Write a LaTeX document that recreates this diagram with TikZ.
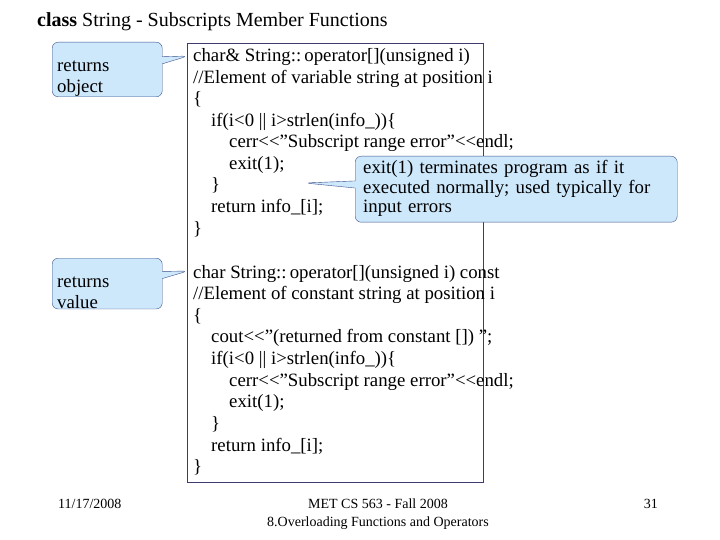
\documentclass[tikz,border=0pt]{standalone}
\usepackage{fontspec}
\setmainfont{Liberation Serif}
\usetikzlibrary{shapes.callouts}
\newcommand{\lsh}{\textless{}\textless{}}
\newcommand{\dq}{\symbol{34}}
\begin{document}
\begin{tikzpicture}[x=1pt,y=-1pt,
 code/.style={anchor=base west,inner sep=0,font=\fontsize{18.8}{20}\selectfont},
 note/.style={rectangle callout,rounded corners=6pt,draw={rgb,255:red,60;green,80;blue,140},fill={rgb,255:red,206;green,232;blue,251},align=left,anchor=north west,inner sep=0,font=\fontsize{18.8}{21.5}\selectfont}]
\useasboundingbox (0,0) rectangle (720,540);
\fill[white] (0,0) rectangle (720,540);
\node[anchor=base west,inner sep=0,font=\fontsize{20}{22}\selectfont] (title) at (37,27) {\textbf{class} String - Subscripts Member Functions};
\draw[draw={rgb,255:red,60;green,60;blue,110}] (187,43) rectangle (483,482);
\coordinate (p1) at (188,56);
\coordinate (p2) at (188,271);
\coordinate (p3) at (305,183);
\node[note,minimum width=110,minimum height=48,text width=100,callout absolute pointer=(p1)] (n1) at (52,42) {\hspace{10pt}\parbox[t]{95pt}{\vspace{-3pt}returns\\object}};
\node[note,minimum width=110,minimum height=48,text width=100,callout absolute pointer=(p2)] (n2) at (52,258) {\hspace{10pt}\parbox[t]{95pt}{\vspace{-3pt}returns\\value}};
\node[note,minimum width=322,minimum height=66,text width=322,callout absolute pointer=(p3)] (n3) at (355,156) {\hspace{8pt}\parbox[t]{312pt}{\vspace{-1pt}exit(1) terminates program as if it\\[-2pt]executed normally; used typically for\\[-2pt]input errors}};
\node[code] (a1) at (193,62) {char\& String::\,operator[](unsigned i)};
\node[code] (a2) at (193,84) {//Element of variable string at position i};
\node[code] (a3) at (193,105) {\{};
\node[code] (a4) at (211,127) {if(i\textless0 || i\textgreater strlen(info\_))\{};
\node[code] (a5) at (229,148) {cerr\lsh\dq Subscript range error\dq\lsh endl;};
\node[code] (a6) at (229,170) {exit(1);};
\node[code] (a7) at (211,191) {\}};
\node[code] (a8) at (211,213) {return info\_[i];};
\node[code] (a9) at (193,234) {\}};
\node[code] (b1) at (193,278) {char String::\,operator[](unsigned i) const};
\node[code] (b2) at (193,299) {//Element of constant string at position i};
\node[code] (b3) at (193,321) {\{};
\node[code] (b4) at (211,342) {cout\lsh\dq(returned from constant []) \dq;};
\node[code] (b5) at (211,364) {if(i\textless0 || i\textgreater strlen(info\_))\{};
\node[code] (b6) at (229,386) {cerr\lsh\dq Subscript range error\dq\lsh endl;};
\node[code] (b7) at (229,407) {exit(1);};
\node[code] (b8) at (211,429) {\}};
\node[code] (b9) at (211,451) {return info\_[i];};
\node[code] (b10) at (193,472) {\}};
\node[anchor=base west,inner sep=0,font=\fontsize{14}{16}\selectfont] (d) at (58,508) {11/17/2008};
\node[anchor=base,inner sep=0,font=\fontsize{14}{16}\selectfont,align=center] (f) at (378,508) {MET CS 563 - Fall 2008};
\node[anchor=base,inner sep=0,font=\fontsize{14}{16}\selectfont] (f2) at (378,526) {8.Overloading Functions and Operators};
\node[anchor=base east,inner sep=0,font=\fontsize{14}{16}\selectfont] (pg) at (658,508) {31};
\end{tikzpicture}
\end{document}
